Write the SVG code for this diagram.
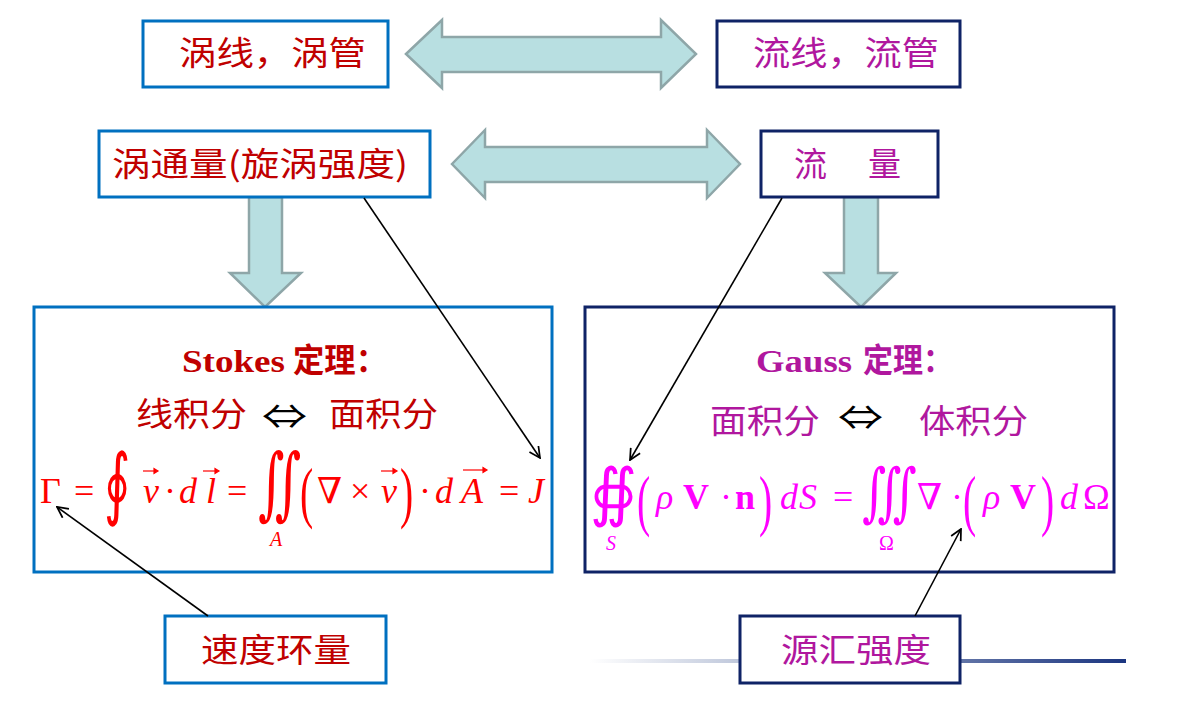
<svg xmlns="http://www.w3.org/2000/svg" width="1187" height="704" viewBox="0 0 1187 704">
<defs>
<style>
.bb{fill:#fff;stroke:#0070C0;stroke-width:3}
.bn{fill:#fff;stroke:#0F2366;stroke-width:3}
.fat{fill:#B8DFE1;stroke:#8EA6A8;stroke-width:2.5;stroke-linejoin:miter}
.cj{font-family:"Noto Sans CJK SC","Noto Sans",sans-serif;font-size:33px}
.red{fill:#C00000}
.pur{fill:#B0179E}
.ser{font-family:"Liberation Serif","DejaVu Serif",serif}
.it{font-style:italic}
.fr{fill:#FF0000}
.fm{fill:#FF00FF}
.sym{font-family:"Noto Sans CJK JP","DejaVu Sans",sans-serif;font-size:34px;fill:#000}
.intg{font-family:"DejaVu Serif",serif}
.con{stroke:#000;stroke-width:1.6;fill:none}
</style>
<marker id="ah" viewBox="0 0 12 12" refX="11" refY="6" markerWidth="13" markerHeight="13" markerUnits="userSpaceOnUse" orient="auto">
<path d="M1,1 L11,6 L1,11" fill="none" stroke="#000" stroke-width="1.6"/>
</marker>
<linearGradient id="gl" x1="0" y1="0" x2="1" y2="0">
<stop offset="0" stop-color="#fff"/>
<stop offset="0.4" stop-color="#A4B0CC"/>
<stop offset="1" stop-color="#1B3580"/>
</linearGradient>
</defs>
<rect width="1187" height="704" fill="#fff"/>
<rect x="590" y="659" width="536" height="4" fill="url(#gl)"/>

<g id="fat-arrows">
<polygon class="fat" points="406,54 442,20 442,37 661,37 661,20 696,54 661,88 661,72 442,72 442,88"/>
<polygon class="fat" points="452,164 485,130 485,147 707,147 707,130 740,164 707,198 707,182 485,182 485,198"/>
<polygon class="fat" points="249,197 282,197 282,273 301,273 265,307 230,273 249,273"/>
<polygon class="fat" points="844,197 878,197 878,273 896,273 861,307 825,273 844,273"/>
</g>

<g id="n-vortex-lines">
<rect class="bb" x="143" y="21" width="245" height="66"/>
<text class="cj red" x="179" y="65" textLength="187" lengthAdjust="spacingAndGlyphs">涡线，涡管</text>
</g>
<g id="n-stream-lines">
<rect class="bn" x="717" y="21" width="243" height="66"/>
<text class="cj pur" x="753" y="65" textLength="186" lengthAdjust="spacingAndGlyphs">流线，流管</text>
</g>
<g id="n-vortex-flux">
<rect class="bb" x="99" y="131" width="331" height="66"/>
<text class="cj red" x="112" y="176" textLength="296" lengthAdjust="spacingAndGlyphs">涡通量(旋涡强度)</text>
</g>
<g id="n-flux">
<rect class="bn" x="761" y="131" width="177" height="66"/>
<text class="cj pur" x="794" y="176">流</text>
<text class="cj pur" x="868" y="176">量</text>
</g>

<g id="n-stokes">
<rect class="bb" x="34" y="307" width="518" height="265" fill="none"/>
<text class="ser red" x="182" y="372" font-size="32" font-weight="bold" textLength="103" lengthAdjust="spacingAndGlyphs">Stokes</text>
<text class="cj red" x="293" y="372" font-size="31" font-weight="bold" textLength="94" lengthAdjust="spacingAndGlyphs">定理：</text>
<text class="cj red" x="136" y="426" textLength="111" lengthAdjust="spacingAndGlyphs">线积分</text>
<text class="sym" x="262" y="429" textLength="45" lengthAdjust="spacingAndGlyphs">⇔</text>
<text class="cj red" x="329" y="426" textLength="109" lengthAdjust="spacingAndGlyphs">面积分</text>
<g class="ser fr" font-size="36">
<text x="40" y="503">Γ</text>
<text x="74" y="503">=</text>
<text class="intg" x="0" y="0" font-size="44" transform="translate(104,510) scale(1.15,1.8)">∮</text>
<text class="it" x="143" y="503">v</text>
<text x="164" y="503">·</text>
<text class="it" x="179" y="503">d</text>
<text class="it" x="206" y="503">l</text>
<text x="227" y="503">=</text>
<text class="intg" x="0" y="0" font-size="44" transform="translate(258,510) scale(1.15,1.8)">∬</text>
<text class="it" x="270" y="546" font-size="20">A</text>
<text x="0" y="9" transform="translate(300,498) scale(1.1,1.85)">(</text>
<text x="317" y="503">∇</text>
<text x="350" y="503">×</text>
<text class="it" x="381" y="503">v</text>
<text x="0" y="9" transform="translate(400,498) scale(1.1,1.85)">)</text>
<text x="419" y="503">·</text>
<text class="it" x="435" y="503">d</text>
<text class="it" x="461" y="503">A</text>
<text x="499" y="503">=</text>
<text class="it" x="528" y="503">J</text>
</g>
<g fill="#FF0000" stroke="#FF0000" stroke-width="1.2">
<path d="M143,471 h13"/><path d="M158,471 l-4,-2.5 v5z"/>
<path d="M203,471 h14"/><path d="M219,471 l-4,-2.5 v5z"/>
<path d="M381,471 h14"/><path d="M397,471 l-4,-2.5 v5z"/>
<path d="M463,470 h22"/><path d="M487,470 l-4,-2.5 v5z"/>
</g>
</g>

<g id="n-gauss">
<rect class="bn" x="585" y="307" width="529" height="265" fill="none"/>
<text class="ser pur" x="756" y="372" font-size="32" font-weight="bold" textLength="96" lengthAdjust="spacingAndGlyphs">Gauss</text>
<text class="cj pur" x="863" y="372" font-size="31" font-weight="bold" textLength="90" lengthAdjust="spacingAndGlyphs">定理：</text>
<text class="cj pur" x="710" y="433" textLength="110" lengthAdjust="spacingAndGlyphs">面积分</text>
<text class="sym" x="838" y="430" textLength="45" lengthAdjust="spacingAndGlyphs">⇔</text>
<text class="cj pur" x="919" y="433" textLength="109" lengthAdjust="spacingAndGlyphs">体积分</text>
<g class="ser fm" font-size="36">
<text class="intg" x="0" y="0" font-size="44" transform="translate(590,514) scale(1.35,1.45)">∯</text>
<text class="it" x="606" y="550" font-size="20">S</text>
<text x="0" y="9" transform="translate(637,506) scale(1.1,1.85)">(</text>
<text class="it" x="656" y="509">ρ</text>
<text x="683" y="509" font-weight="bold">V</text>
<text x="720" y="509">·</text>
<text x="735" y="509" font-weight="bold">n</text>
<text x="0" y="9" transform="translate(759,506) scale(1.1,1.85)">)</text>
<text class="it" x="780" y="509">d</text>
<text class="it" x="799" y="509">S</text>
<text x="833" y="509">=</text>
<text class="intg" x="0" y="0" font-size="44" transform="translate(862,514) scale(1.05,1.45)">∭</text>
<text x="879" y="550" font-size="20">Ω</text>
<text x="917" y="509">∇</text>
<text x="951" y="509">·</text>
<text x="0" y="9" transform="translate(963,506) scale(1.1,1.85)">(</text>
<text class="it" x="983" y="509">ρ</text>
<text x="1010" y="509" font-weight="bold">V</text>
<text x="0" y="9" transform="translate(1041,506) scale(1.1,1.85)">)</text>
<text class="it" x="1060" y="509">d</text>
<text x="1083" y="509">Ω</text>
</g>
</g>

<g id="n-circulation">
<rect class="bb" x="165" y="616" width="221" height="67"/>
<text class="cj red" x="201" y="662" textLength="150" lengthAdjust="spacingAndGlyphs">速度环量</text>
</g>
<g id="n-source">
<rect class="bn" x="740" y="616" width="220" height="67" fill="none"/>
<text class="cj pur" x="781" y="662" textLength="150" lengthAdjust="spacingAndGlyphs">源汇强度</text>
</g>

<g id="connectors">
<line class="con" x1="364" y1="198" x2="540" y2="458" marker-end="url(#ah)"/>
<line class="con" x1="782" y1="198" x2="630" y2="460" marker-end="url(#ah)"/>
<line class="con" x1="208" y1="616" x2="57" y2="507" marker-end="url(#ah)"/>
<line class="con" x1="915" y1="616" x2="961" y2="529" marker-end="url(#ah)"/>
</g>
</svg>
